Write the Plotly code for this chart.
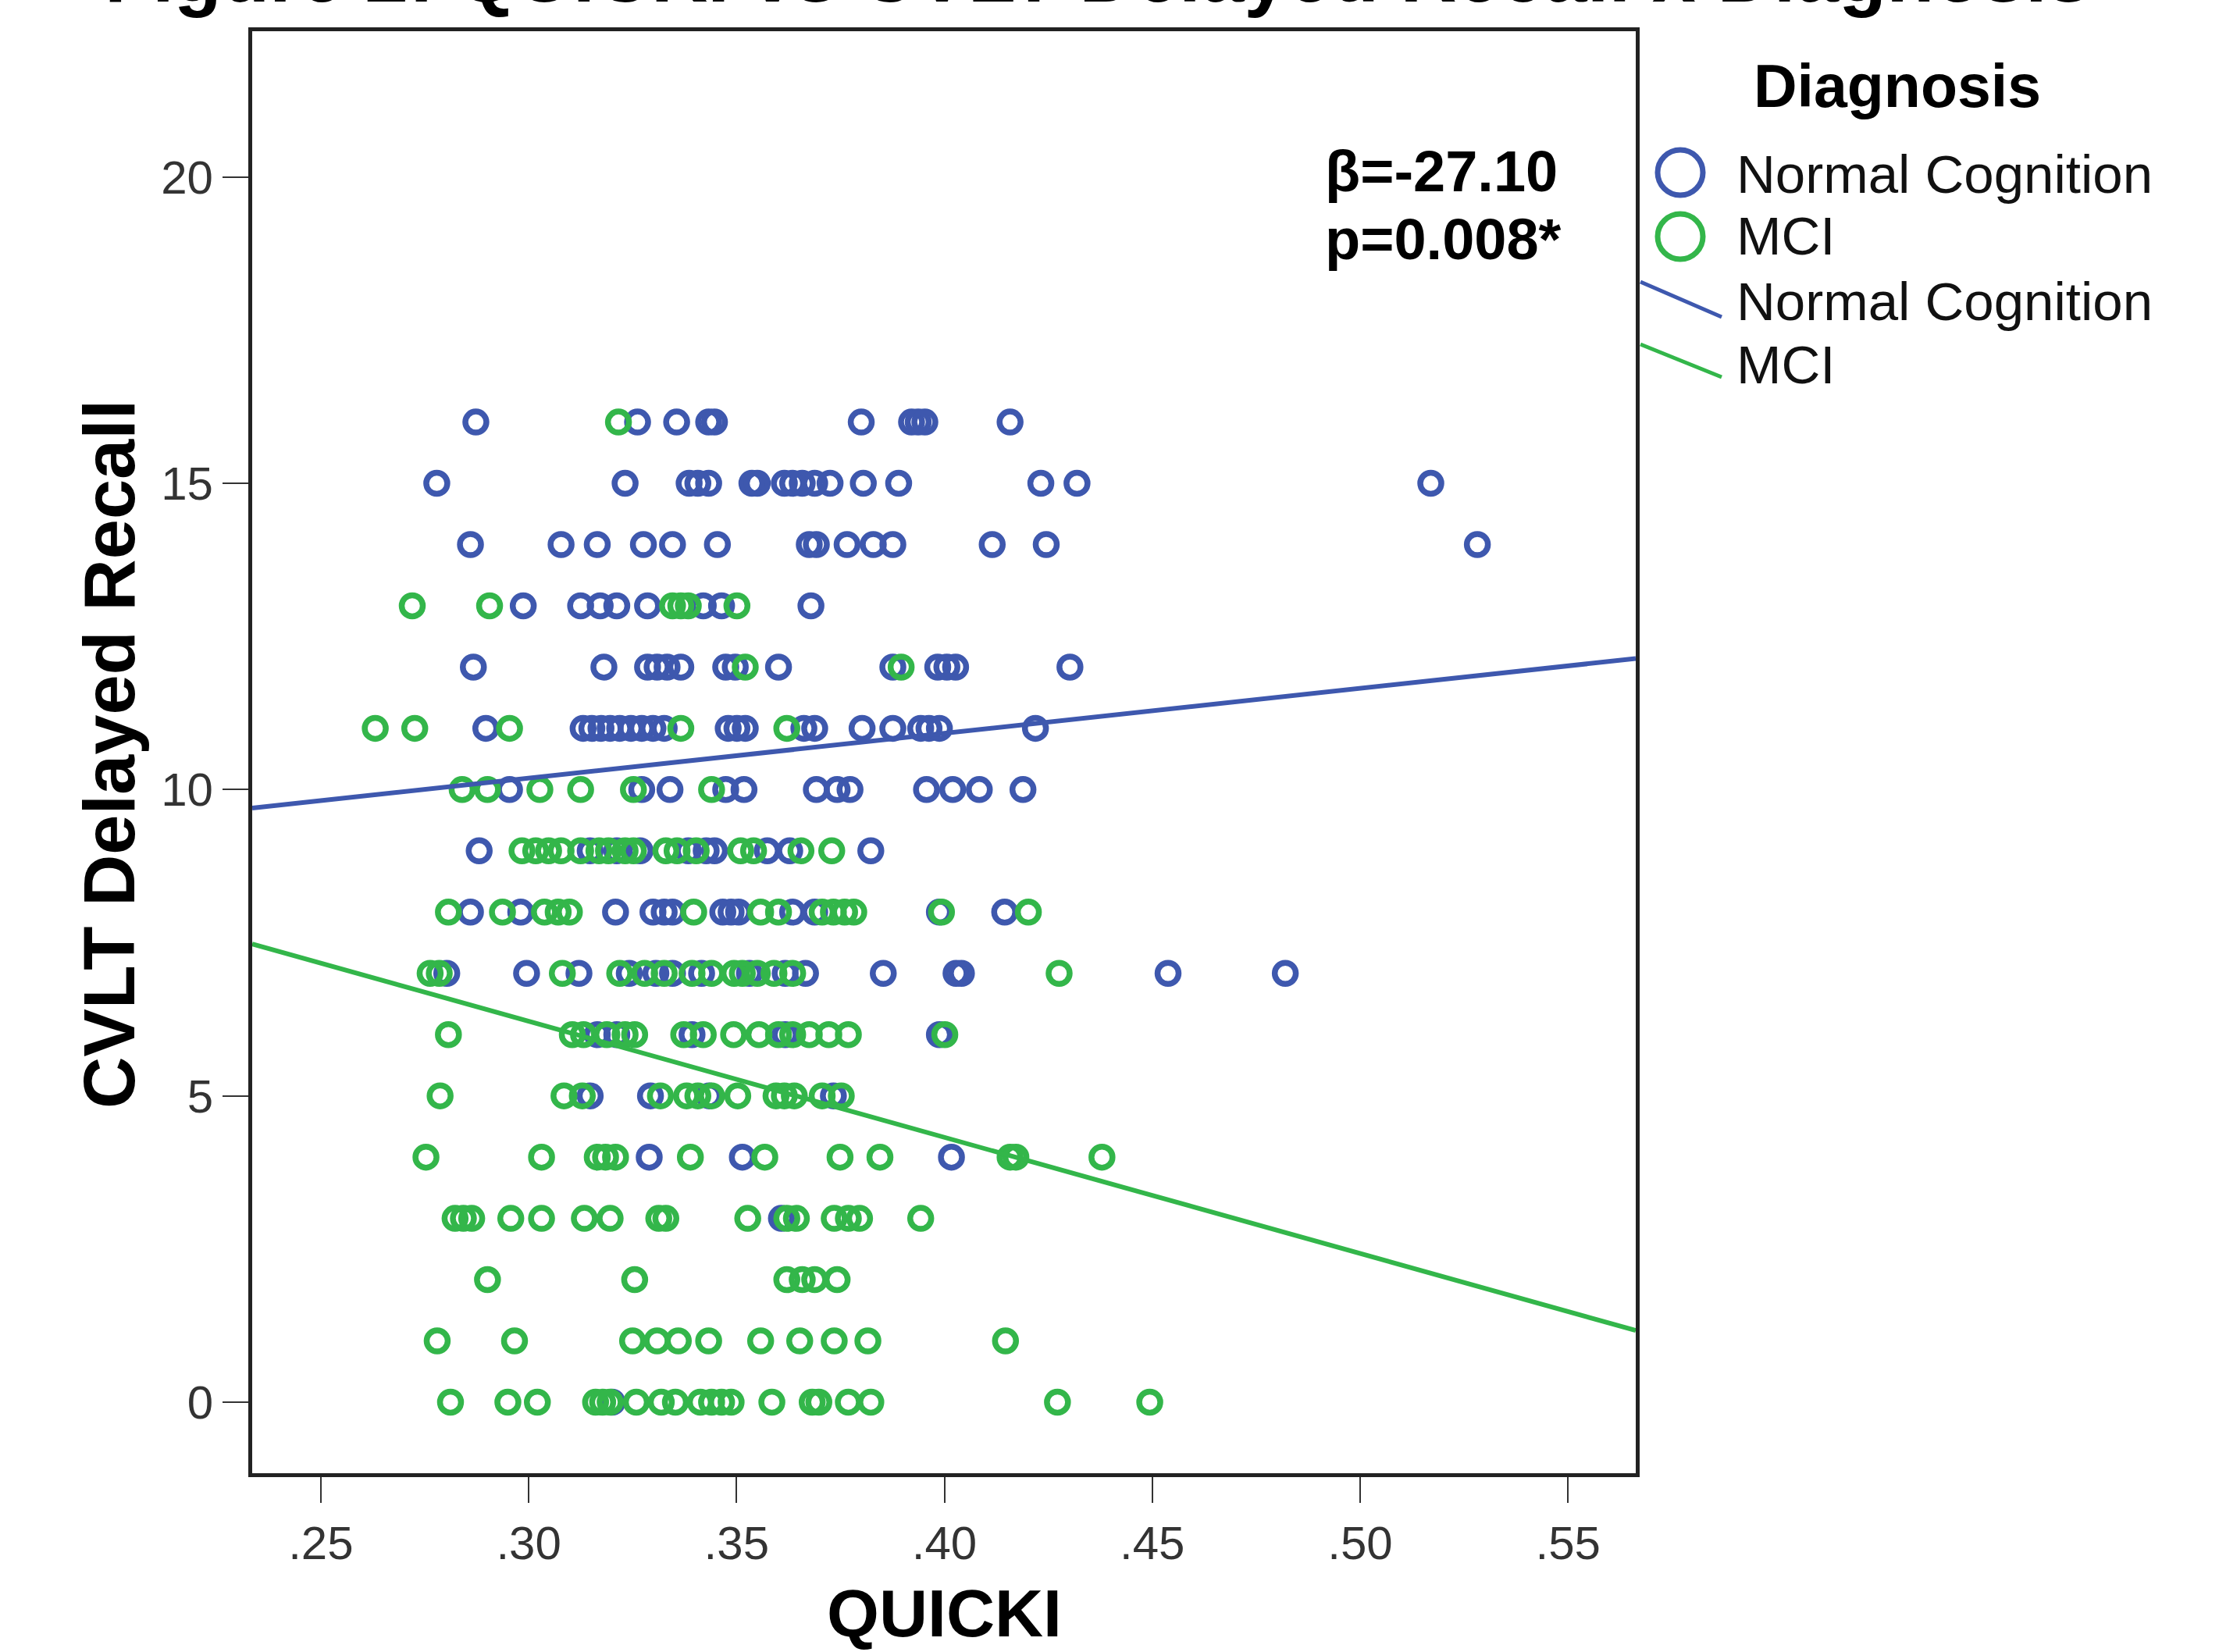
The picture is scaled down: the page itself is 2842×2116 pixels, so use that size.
import plotly.graph_objects as go

# ---------------- data ----------------
nc_quicki = [
    .2873, .3262, .3356, .3433, .3447, .3800, .3921, .3937, .3953, .4158,
    .2779, .3232, .3386, .3407, .3433, .3537, .3550, .3615, .3635, .3658, .3688, .3725, .3805, .3890, .4232, .4319, .5170,
    .2860, .3078, .3165, .3276, .3346, .3454, .3675, .3692, .3766, .3829, .3876, .4115, .4245, .5282,
    .2987, .3125, .3172, .3212, .3286, .3420, .3464, .3679,
    .2867, .3181, .3286, .3309, .3333, .3366, .3474, .3497, .3601, .3876, .3984, .4006, .4027, .4302,
    .2897, .3131, .3152, .3174, .3196, .3219, .3246, .3272, .3299, .3326, .3480, .3501, .3521, .3662, .3688, .3802, .3876, .3943, .3963, .3988, .4219,
    .2954, .3272, .3340, .3474, .3518, .3692, .3742, .3773, .3957, .4020, .4084, .4189,
    .2881, .3148, .3212, .3268, .3384, .3427, .3447, .3574, .3628, .3823,
    .2860, .2981, .3209, .3299, .3326, .3346, .3467, .3487, .3505, .3635, .3688, .3988, .4145,
    .2803, .2995, .3121, .3242, .3306, .3346, .3416, .3531, .3617, .3666, .3853, .4028, .4041, .4538, .4820,
    .3165, .3212, .3393, .3617, .3988,
    .3148, .3293, .3434, .3733,
    .3290, .3514, .4017,
    .3608,
    .3201,
]
nc_cvlt = [
    16, 16, 16, 16, 16, 16, 16, 16, 16, 16,
    15, 15, 15, 15, 15, 15, 15, 15, 15, 15, 15, 15, 15, 15, 15, 15, 15,
    14, 14, 14, 14, 14, 14, 14, 14, 14, 14, 14, 14, 14, 14,
    13, 13, 13, 13, 13, 13, 13, 13,
    12, 12, 12, 12, 12, 12, 12, 12, 12, 12, 12, 12, 12, 12,
    11, 11, 11, 11, 11, 11, 11, 11, 11, 11, 11, 11, 11, 11, 11, 11, 11, 11, 11, 11, 11,
    10, 10, 10, 10, 10, 10, 10, 10, 10, 10, 10, 10,
    9, 9, 9, 9, 9, 9, 9, 9, 9, 9,
    8, 8, 8, 8, 8, 8, 8, 8, 8, 8, 8, 8, 8,
    7, 7, 7, 7, 7, 7, 7, 7, 7, 7, 7, 7, 7, 7, 7,
    6, 6, 6, 6, 6,
    5, 5, 5, 5,
    4, 4, 4,
    3,
    0,
]

mci_quicki = [
    .3216,
    .2720, .2906, .3346, .3366, .3384, .3501,
    .3521, .3896,
    .2631, .2726, .2954, .3366, .3621,
    .2840, .2901, .3027, .3125, .3252, .3440,
    .2984, .3017, .3048, .3078, .3125, .3169, .3192, .3232, .3252, .3330, .3357, .3403, .3510, .3541, .3655, .3729,
    .2807, .2937, .3038, .3071, .3098, .3397, .3558, .3601, .3706, .3733, .3760, .3782, .3993, .4202,
    .2763, .2785, .3081, .3219, .3279, .3326, .3393, .3440, .3494, .3514, .3550, .3590, .3635, .4276,
    .2807, .3105, .3132, .3188, .3232, .3255, .3373, .3420, .3493, .3554, .3601, .3635, .3675, .3722, .3769, .4001,
    .2787, .3085, .3129, .3317, .3380, .3407, .3440, .3503, .3595, .3615, .3639, .3706, .3752,
    .2753, .3031, .3165, .3185, .3209, .3389, .3568, .3749, .3845, .4158, .4172, .4379,
    .2823, .2843, .2863, .2957, .3031, .3134, .3196, .3313, .3330, .3527, .3621, .3644, .3735, .3769, .3796, .3943,
    .2901, .3255, .3621, .3658, .3688, .3742,
    .2780, .2966, .3250, .3309, .3360, .3433, .3558, .3652, .3735, .3816, .4147,
    .2812, .2950, .3021, .3161, .3178, .3196, .3259, .3319, .3353, .3413, .3440, .3464, .3487, .3585, .3682, .3698, .3769, .3823, .4272, .4494,
]
mci_cvlt = [
    16,
    13, 13, 13, 13, 13, 13,
    12, 12,
    11, 11, 11, 11, 11,
    10, 10, 10, 10, 10, 10,
    9, 9, 9, 9, 9, 9, 9, 9, 9, 9, 9, 9, 9, 9, 9, 9,
    8, 8, 8, 8, 8, 8, 8, 8, 8, 8, 8, 8, 8, 8,
    7, 7, 7, 7, 7, 7, 7, 7, 7, 7, 7, 7, 7, 7,
    6, 6, 6, 6, 6, 6, 6, 6, 6, 6, 6, 6, 6, 6, 6, 6,
    5, 5, 5, 5, 5, 5, 5, 5, 5, 5, 5, 5, 5,
    4, 4, 4, 4, 4, 4, 4, 4, 4, 4, 4, 4,
    3, 3, 3, 3, 3, 3, 3, 3, 3, 3, 3, 3, 3, 3, 3, 3,
    2, 2, 2, 2, 2, 2,
    1, 1, 1, 1, 1, 1, 1, 1, 1, 1, 1,
    0, 0, 0, 0, 0, 0, 0, 0, 0, 0, 0, 0, 0, 0, 0, 0, 0, 0, 0, 0,
]
assert len(nc_quicki) == len(nc_cvlt)
assert len(mci_quicki) == len(mci_cvlt)

# fit lines (intercept, slope)
nc_fit = [7.988, 7.33]
mci_fit = [11.907, -18.96]

x_tick_vals = [0.25, 0.30, 0.35, 0.40, 0.45, 0.50, 0.55]
x_tick_text = [".25", ".30", ".35", ".40", ".45", ".50", ".55"]
y_tick_vals = [0, 5, 10, 15, 20]
y_tick_text = ["0", "5", "10", "15", "20"]

group_names = ["Normal Cognition", "MCI"]
stat_lines = ["β=-27.10", "p=0.008*"]
title_text = "Figure 2: QUICKI vs CVLT Delayed Recall x Diagnosis"

# ---------------- style / layout ----------------
BLUE = "#3E58AE"
GREEN = "#33B64A"
FONT = "Liberation Sans, Arial, sans-serif"
W, H = 2842, 2116
L, R, T, B = 323, 2095, 40, 1887
x_range = [0.2335, 0.5663]
y_range = [-1.16, 22.38]


def px2x(px):
    return (px - L) / (R - L)


def px2y(py):
    return (B - py) / (B - T)


fig = go.Figure()

fig.add_trace(go.Scatter(
    x=nc_quicki, y=nc_cvlt, mode="markers", name=group_names[0],
    marker=dict(symbol="circle-open", size=27, color=BLUE, line=dict(width=7.5, color=BLUE)),
    showlegend=False))
fig.add_trace(go.Scatter(
    x=mci_quicki, y=mci_cvlt, mode="markers", name=group_names[1],
    marker=dict(symbol="circle-open", size=27, color=GREEN, line=dict(width=7.5, color=GREEN)),
    showlegend=False))

for fit, col, nm in [(nc_fit, BLUE, group_names[0]), (mci_fit, GREEN, group_names[1])]:
    xs = x_range
    ys = [fit[0] + fit[1] * v for v in xs]
    fig.add_trace(go.Scatter(x=xs, y=ys, mode="lines", name=nm,
                             line=dict(color=col, width=6), showlegend=False))

axis_common = dict(showgrid=False, zeroline=False, showline=True, mirror=True,
                   linecolor="#222222", linewidth=5, ticks="outside",
                   tickcolor="#333333", tickwidth=2,
                   tickfont=dict(family=FONT, size=60, color="#333333"))

fig.update_xaxes(range=x_range, tickvals=x_tick_vals, ticktext=x_tick_text,
                 ticklen=33, **axis_common)
fig.update_yaxes(range=y_range, tickvals=y_tick_vals, ticktext=y_tick_text,
                 ticklen=33, **axis_common)

annotations = []
# title, cut off at the top exactly as in the reference
annotations.append(dict(text="<b>%s</b>" % title_text, x=px2x(1405), y=px2y(25),
                        xref="paper", yref="paper", xanchor="center", yanchor="bottom",
                        showarrow=False, font=dict(family=FONT, size=100, color="black")))
# axis titles
annotations.append(dict(text="<b>QUICKI</b>", x=px2x(1209), y=px2y(2066),
                        xref="paper", yref="paper", xanchor="center", yanchor="middle",
                        showarrow=False, font=dict(family=FONT, size=86, color="black")))
annotations.append(dict(text="<b>CVLT Delayed Recall</b>", x=px2x(140), y=px2y(966),
                        xref="paper", yref="paper", xanchor="center", yanchor="middle",
                        textangle=-90, showarrow=False,
                        font=dict(family=FONT, size=92, color="black")))
# stats
for txt, py in zip(stat_lines, [219, 307]):
    annotations.append(dict(text="<b>%s</b>" % txt, x=px2x(1695), y=px2y(py),
                            xref="paper", yref="paper", xanchor="left", yanchor="middle",
                            showarrow=False, font=dict(family=FONT, size=74, color="black")))
# legend
annotations.append(dict(text="<b>Diagnosis</b>", x=px2x(2430), y=px2y(110),
                        xref="paper", yref="paper", xanchor="center", yanchor="middle",
                        showarrow=False, font=dict(family=FONT, size=77, color="black")))
legend_rows = [224, 303, 387, 467]
legend_labels = [group_names[0], group_names[1], group_names[0], group_names[1]]
for lbl, py in zip(legend_labels, legend_rows):
    annotations.append(dict(text=lbl, x=px2x(2222), y=px2y(py),
                            xref="paper", yref="paper", xanchor="left", yanchor="middle",
                            showarrow=False, font=dict(family=FONT, size=69, color="#111111")))

shapes = []
for col, cy in [(BLUE, 221), (GREEN, 303)]:
    r = 29
    shapes.append(dict(type="circle", xref="paper", yref="paper",
                       x0=px2x(2152 - r), x1=px2x(2152 + r), y0=px2y(cy + r), y1=px2y(cy - r),
                       line=dict(color=col, width=7), fillcolor="rgba(0,0,0,0)"))
for col, (y0, y1) in [(BLUE, (361, 406)), (GREEN, (441, 483))]:
    shapes.append(dict(type="line", xref="paper", yref="paper",
                       x0=px2x(2101), x1=px2x(2205), y0=px2y(y0), y1=px2y(y1),
                       line=dict(color=col, width=5)))

fig.update_layout(
    width=W, height=H, autosize=False,
    margin=dict(l=L, r=W - R, t=T, b=H - B, pad=0),
    paper_bgcolor="white", plot_bgcolor="white",
    font=dict(family=FONT, color="black"),
    annotations=annotations, shapes=shapes,
    showlegend=False,
)

fig.write_html("out.html",
               config={"displayModeBar": False},
               post_script="document.body.style.margin='0px';document.body.style.overflow='hidden';")
